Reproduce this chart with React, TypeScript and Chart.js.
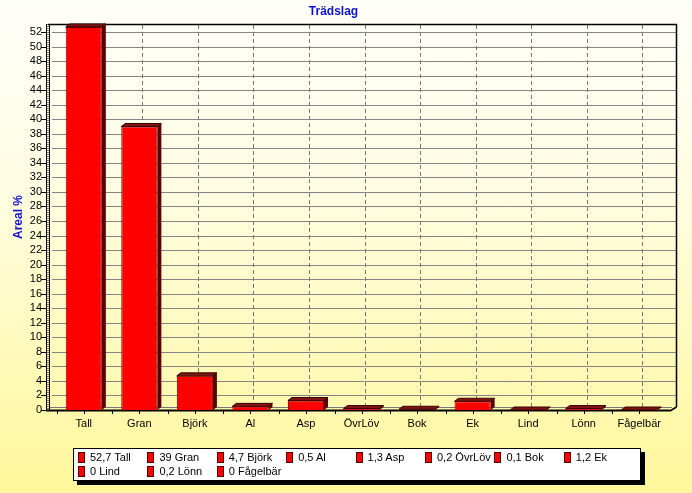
import React, { useEffect, useRef } from "react";
import { Chart, registerables } from "chart.js";
Chart.register(...registerables);

const title = "Trädslag";
const yTitle = "Areal %";
const categories = ["Tall", "Gran", "Björk", "Al", "Asp", "ÖvrLöv", "Bok", "Ek", "Lind", "Lönn", "Fågelbär"];
const values = [52.7, 39, 4.7, 0.5, 1.3, 0.2, 0.1, 1.2, 0, 0.2, 0];
const yTickValues = [0, 2, 4, 6, 8, 10, 12, 14, 16, 18, 20, 22, 24, 26, 28, 30, 32, 34, 36, 38, 40, 42, 44, 46, 48, 50, 52];
const yMax = 53.1;

const legendLabels = categories.map((c, i) => `${String(values[i]).replace(".", ",")} ${c}`);

const FONT = "Arial, 'Liberation Sans', sans-serif";
const DX = 4;
const DY = -3;

const frame3d = {
  id: "frame3d",
  beforeDatasetsDraw(chart: any) {
    const { ctx, chartArea: a, scales } = chart;
    const x = scales.x;
    const y = scales.y;
    const L = a.left - 6;
    const R = a.right + 10;
    const T = a.top;
    const B = a.bottom;
    const line = (x1: number, y1: number, x2: number, y2: number) => {
      ctx.beginPath();
      ctx.moveTo(x1, y1);
      ctx.lineTo(x2, y2);
      ctx.stroke();
    };
    ctx.save();
    // horizontal grid lines
    ctx.strokeStyle = "#858585";
    ctx.lineWidth = 1;
    y.ticks.forEach((t: any) => {
      if (t.value === 0) return;
      const py = Math.round(y.getPixelForValue(t.value)) + 0.5;
      line(L + 2, py, R, py);
    });
    // y ticks on the wall
    ctx.strokeStyle = "#000";
    y.ticks.forEach((t: any) => {
      const py = Math.round(y.getPixelForValue(t.value)) + 0.5;
      line(L - 9, py, L - 4, py);
    });
    // vertical dashed lines
    ctx.strokeStyle = "#777";
    ctx.setLineDash([4, 3]);
    categories.forEach((_c, i) => {
      const px = Math.round(x.getPixelForValue(i)) + 3.5;
      line(px, T + 1, px, B - 3);
    });
    ctx.setLineDash([]);
    // top and right borders
    ctx.strokeStyle = "#000";
    ctx.lineWidth = 1.5;
    line(L - 2, T + 0.5, R, T + 0.5);
    line(R - 0.5, T, R - 0.5, B - 3);
    line(R - 0.5, B - 3, R - 7, B + 1);
    // floor
    ctx.lineWidth = 2;
    line(L - 4, B + 0.5, R - 7, B + 0.5);
    ctx.strokeStyle = "#777";
    ctx.lineWidth = 1;
    line(L, B - 2.5, R - 5, B - 2.5);
    // x ticks
    ctx.strokeStyle = "#000";
    const half = (x.getPixelForValue(1) - x.getPixelForValue(0)) / 2;
    categories.forEach((_c, i) => {
      const px = Math.round(x.getPixelForValue(i)) + 0.5;
      line(px, B + 1, px, B + 4);
      line(Math.round(px - half) + 0.5, B + 1, Math.round(px - half) + 0.5, B + 4);
    });
    // left wall
    ctx.lineWidth = 1;
    line(L - 3.5, T, L - 3.5, B + 1);
    line(L - 0.5, T, L - 0.5, B + 1);
    ctx.setLineDash([1, 1]);
    line(L - 2, T, L - 2, B);
    ctx.setLineDash([]);
    ctx.restore();
  },
  afterDatasetsDraw(chart: any) {
    const { ctx } = chart;
    const meta = chart.getDatasetMeta(0);
    ctx.save();
    meta.data.forEach((bar: any) => {
      const { x, y, base, width } = bar.getProps(["x", "y", "base", "width"], true);
      const l = x - width / 2;
      const r = x + width / 2;
      // side face
      ctx.fillStyle = "#5a0000";
      ctx.beginPath();
      ctx.moveTo(r, y);
      ctx.lineTo(r + DX, y + DY);
      ctx.lineTo(r + DX, base + DY);
      ctx.lineTo(r, base);
      ctx.closePath();
      ctx.fill();
      // top face
      ctx.fillStyle = "#7d1414";
      ctx.beginPath();
      ctx.moveTo(l, y);
      ctx.lineTo(l + DX, y + DY);
      ctx.lineTo(r + DX, y + DY);
      ctx.lineTo(r, y);
      ctx.closePath();
      ctx.fill();
      ctx.strokeStyle = "#3a0000";
      ctx.lineWidth = 1;
      ctx.stroke();
    });
    ctx.restore();
  },
};

export default function App() {
  const ref = useRef<HTMLCanvasElement | null>(null);
  useEffect(() => {
    if (!ref.current) return;
    const chart = new Chart(ref.current, {
      type: "bar",
      data: {
        labels: categories,
        datasets: [
          {
            data: values,
            backgroundColor: "#ff0000",
            borderColor: "#7a0000",
            borderWidth: 1,
            barPercentage: 0.65,
            categoryPercentage: 1,
          },
        ],
      },
      options: {
        animation: false,
        responsive: false,
        layout: { padding: { left: 0, right: 25, top: 0, bottom: 0 } },
        plugins: {
          legend: { display: false },
          tooltip: { enabled: false },
          title: {
            display: true,
            text: title,
            color: "#1010d0",
            font: { family: FONT, size: 12, weight: "bold" },
            padding: { top: 4, bottom: 5.6 },
          },
        },
        scales: {
          x: {
            grid: { display: false, drawTicks: false },
            border: { display: false },
            ticks: { color: "#000", font: { family: FONT, size: 11 }, padding: 7, maxRotation: 0, autoSkip: false },
            afterFit: (s: any) => {
              s.height = 83;
            },
          },
          y: {
            min: 0,
            max: yMax,
            grid: { display: false, drawTicks: false },
            border: { display: false },
            ticks: {
              autoSkip: false,
              color: "#000",
              font: { family: FONT, size: 11 },
              padding: 14,
            },
            afterBuildTicks: (s: any) => {
              s.ticks = yTickValues.map((v) => ({ value: v }));
            },
            afterFit: (s: any) => {
              s.width = 56;
            },
            title: {
              display: true,
              text: yTitle,
              color: "#1010d0",
              font: { family: FONT, size: 12, weight: "bold" },
              padding: { top: 11, bottom: 0 },
            },
          },
        },
      },
      plugins: [frame3d],
    });
    return () => chart.destroy();
  }, []);

  return (
    <div
      style={{
        position: "absolute",
        left: 0,
        top: 0,
        width: 692,
        height: 493,
        background: "linear-gradient(to bottom, #fffffa 0%, #fffde0 40%, #fff79a 100%)",
        fontFamily: FONT,
      }}
    >
      <canvas ref={ref} width={692} height={493} style={{ position: "absolute", left: 0, top: 0 }} />
      <div
        style={{
          position: "absolute",
          left: 73,
          top: 448,
          width: 566,
          height: 31,
          background: "#fff",
          border: "1px solid #000",
          boxShadow: "4px 4px 0 #000",
          fontSize: 11,
          color: "#000",
        }}
      >
        {legendLabels.map((lab, i) => (
          <div
            key={lab}
            style={{
              position: "absolute",
              left: 4 + (i % 8) * 69.4,
              top: 1 + Math.floor(i / 8) * 14,
              height: 14,
              display: "flex",
              alignItems: "center",
              whiteSpace: "nowrap",
            }}
          >
            <span
              style={{
                display: "inline-block",
                width: 5,
                height: 9,
                background: "#ff0000",
                border: "1px solid #500000",
                marginRight: 5,
              }}
            />
            <span>{lab}</span>
          </div>
        ))}
      </div>
    </div>
  );
}
